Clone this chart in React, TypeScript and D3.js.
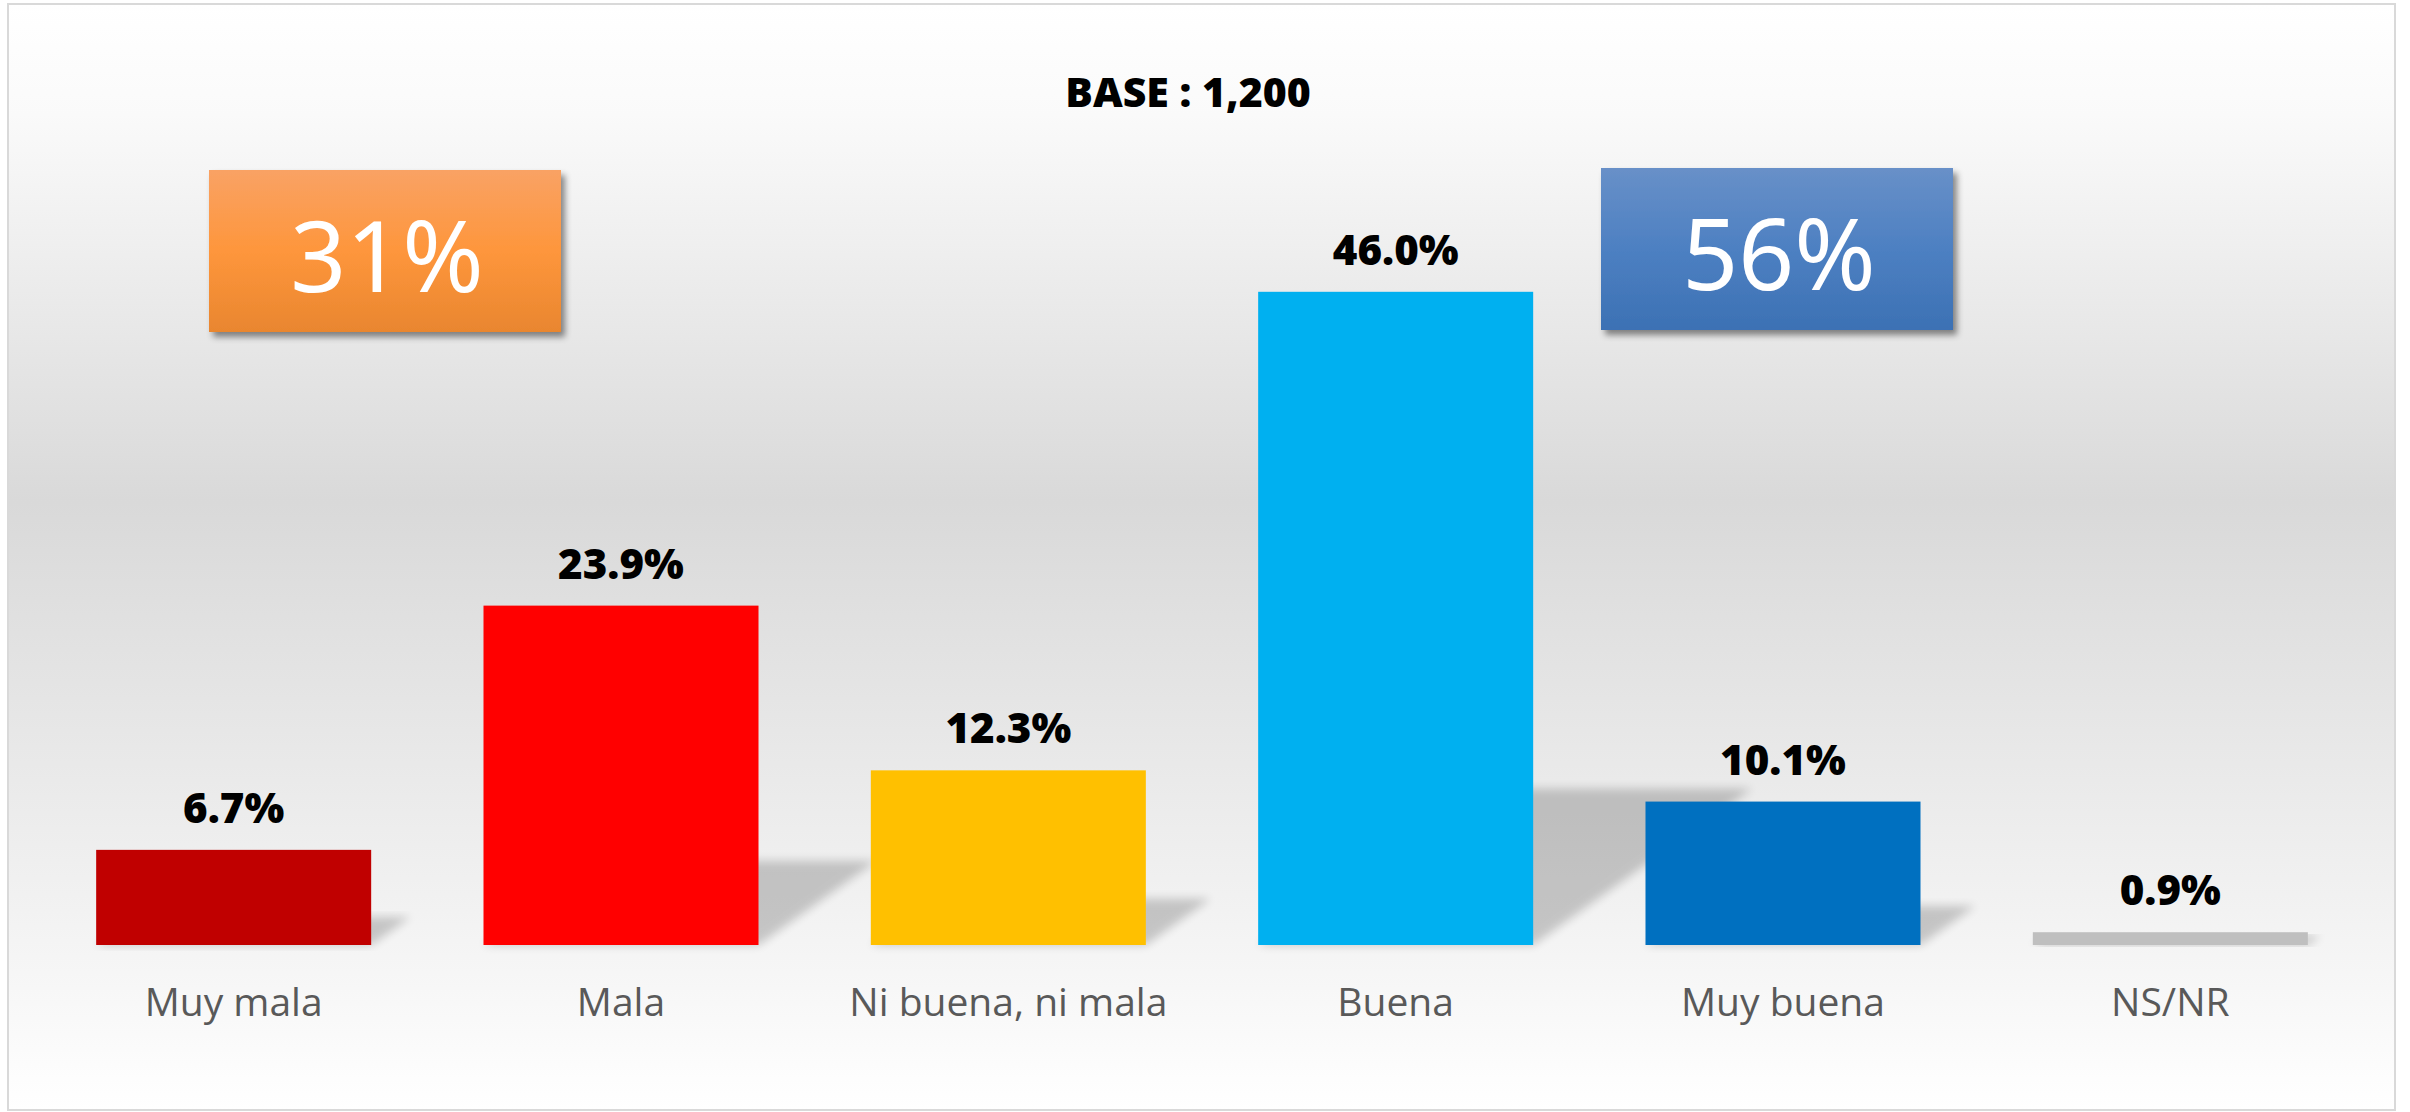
import React from 'react';
import * as d3 from 'd3';

const categories = ['Muy mala', 'Mala', 'Ni buena, ni mala', 'Buena', 'Muy buena', 'NS/NR'];
const values = [6.7, 23.9, 12.3, 46.0, 10.1, 0.9];
const barColors = ['#C00000', '#FF0000', '#FFC000', '#00B0F0', '#0070C0', '#BFBFBF'];
const title = 'BASE : 1,200';
const summaryLabels = ['31%', '56%'];

const W = 2410;
const H = 1112;

export default function App() {
  // frame & plot
  const frame = { x: 8, y: 4, w: 2387, h: 1106 };
  const base = 945;

  const x = d3.scaleBand<string>().domain(categories).range([40, 2364]).paddingInner(0.29).paddingOuter(0.145);
  const y = d3.scaleLinear().domain([0, 50]).range([base, 235]);

  const bars = categories.map((c, i) => ({ c, v: values[i], color: barColors[i] }));

  return (
    <div style={{ position: 'absolute', left: 0, top: 0 }}>
      <svg width={W} height={H} style={{ display: 'block' }}>
        <defs>
          <linearGradient id="bg" x1="0" y1="0" x2="0" y2="1">
            <stop offset="0%" stopColor="#ffffff" />
            <stop offset="10%" stopColor="#fafafa" />
            <stop offset="45%" stopColor="#d9d9d9" />
            <stop offset="82%" stopColor="#f2f2f2" />
            <stop offset="100%" stopColor="#ffffff" />
          </linearGradient>
          <linearGradient id="gOrange" x1="0" y1="0" x2="0" y2="1">
            <stop offset="0%" stopColor="#F9A264" />
            <stop offset="50%" stopColor="#FE963C" />
            <stop offset="100%" stopColor="#E9862F" />
          </linearGradient>
          <linearGradient id="gBlue" x1="0" y1="0" x2="0" y2="1">
            <stop offset="0%" stopColor="#6890C8" />
            <stop offset="50%" stopColor="#4D80C2" />
            <stop offset="100%" stopColor="#3C71B4" />
          </linearGradient>
          <filter id="blur" x="-20%" y="-20%" width="140%" height="140%">
            <feGaussianBlur stdDeviation="5" />
          </filter>
          <filter id="boxShadow" x="-10%" y="-10%" width="130%" height="140%">
            <feDropShadow dx="4" dy="5" stdDeviation="3" floodColor="#000" floodOpacity="0.45" />
          </filter>
        </defs>

        <rect x={frame.x} y={frame.y} width={frame.w} height={frame.h} fill="url(#bg)" stroke="#d9d9d9" strokeWidth={2} />

        <text x={1188} y={107} textAnchor="middle" fontFamily="'Open Sans', sans-serif" fontWeight={800} fontSize={41} fill="#000">
          {title}
        </text>

        {/* perspective shadows */}
        {bars.map(b => {
          const x0 = x(b.c)!;
          const x1 = x0 + x.bandwidth();
          const hgt = base - y(b.v);
          const sh = hgt * 0.23 + 6;
          const dx = sh * 1.4;
          const pts = [[x0, base], [x1, base], [x1 + dx, base - sh], [x0 + dx, base - sh]];
          return (
            <polygon key={'s' + b.c} points={pts.map(p => p.join(',')).join(' ')} fill="#000" opacity={0.19} filter="url(#blur)" />
          );
        })}

        {bars.map(b => (
          <rect key={b.c} x={x(b.c)} y={y(b.v)} width={x.bandwidth()} height={base - y(b.v)} fill={b.color} />
        ))}

        {bars.map(b => (
          <text key={'v' + b.c} x={x(b.c)! + x.bandwidth() / 2} y={y(b.v) - 27} textAnchor="middle"
            fontFamily="'Open Sans', sans-serif" fontWeight={800} fontSize={42} fill="#000">
            {b.v.toFixed(1) + '%'}
          </text>
        ))}

        {bars.map(b => (
          <text key={'l' + b.c} x={x(b.c)! + x.bandwidth() / 2} y={1016} textAnchor="middle"
            fontFamily="'Open Sans', sans-serif" fontSize={39} fill="#595959">
            {b.c}
          </text>
        ))}

        {/* summary boxes */}
        {summaryLabels.map((s, i) => {
          const bx = i === 0 ? 209 : 1601;
          const by = i === 0 ? 170 : 168;
          const cx = bx + 176;
          return (
            <g key={s} filter="url(#boxShadow)">
              <rect x={bx} y={by} width={352} height={162} fill={i === 0 ? 'url(#gOrange)' : 'url(#gBlue)'} />
              <text x={cx + 2} y={by + 122} textAnchor="middle" fontFamily="'Noto Sans', sans-serif" fontWeight={400} fontSize={98} fill="#fff">
                {s}
              </text>
            </g>
          );
        })}
      </svg>
    </div>
  );
}
